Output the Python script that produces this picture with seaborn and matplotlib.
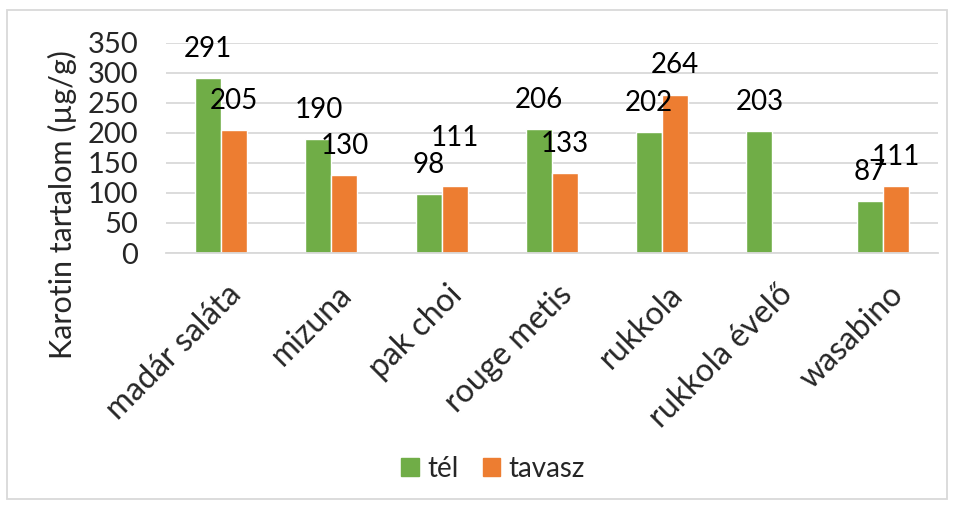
import matplotlib
matplotlib.use("Agg")
import matplotlib.pyplot as plt
import matplotlib.patches as mpatches
import matplotlib.transforms as mtransforms
import pandas as pd
import seaborn as sns

# chart data
categories = ["madár saláta", "mizuna", "pak choi", "rouge metis",
              "rukkola", "rukkola évelő", "wasabino"]
tel = [291, 190, 98, 206, 202, 203, 87]
tavasz = [205, 130, 111, 133, 264, None, 111]
series_names = ["tél", "tavasz"]
y_ticks = [0, 50, 100, 150, 200, 250, 300, 350]

colors = {"tél": "#70AD47", "tavasz": "#ED7D31"}
grid_color = "#D9D9D9"
# extra lift (points) for a label that was nudged up in the original
label_lift = {("tavasz", "pak choi"): 14}

sns.set_style("white")
plt.rcParams["font.family"] = ["Lato", "DejaVu Sans"]

# long format table, missing values dropped (dodge slot stays)
rows = []
for cat, a, b in zip(categories, tel, tavasz):
    if a is not None:
        rows.append({"kategoria": cat, "evszak": "tél", "ertek": a})
    if b is not None:
        rows.append({"kategoria": cat, "evszak": "tavasz", "ertek": b})
df = pd.DataFrame(rows)

fig = plt.figure(figsize=(9.54, 5.05), dpi=100)
ax = fig.add_axes([0.174, 0.499, 0.809, 0.416])

sns.barplot(data=df, x="kategoria", y="ertek", hue="evszak",
            order=categories, hue_order=series_names, palette=colors,
            width=0.47, saturation=1, errorbar=None, ax=ax, zorder=2)

# data labels, Excel puts them a bit above the bar top
for name, container in zip(series_names, ax.containers):
    sub = df[df["evszak"] == name]
    for bar, cat in zip(container, sub["kategoria"]):
        h = bar.get_height()
        lift = label_lift.get((name, cat), 0)
        ax.annotate(f"{h:.0f}", (bar.get_x() + bar.get_width() / 2, h),
                    xytext=(0, 21 + lift), textcoords="offset points",
                    ha="center", va="center", fontsize=20, color="black",
                    zorder=3)

ax.set_ylim(0, 350)
ax.set_xlim(-0.5, len(categories) - 0.5)
ax.set_yticks(y_ticks)
ax.yaxis.grid(True, color=grid_color, linewidth=1.3, zorder=0)
ax.set_axisbelow(True)
for side in ["top", "right", "left"]:
    ax.spines[side].set_visible(False)
ax.spines["bottom"].set_color(grid_color)
ax.spines["bottom"].set_linewidth(1.3)
ax.tick_params(axis="y", length=0, pad=20, labelsize=21)
ax.tick_params(axis="x", length=0, pad=19, labelsize=23)
# shift the slanted category labels slightly to the right
shift = mtransforms.ScaledTranslation(0.05, 0, fig.dpi_scale_trans)
for lbl in ax.get_xticklabels():
    lbl.set_rotation(45)
    lbl.set_ha("right")
    lbl.set_va("top")
    lbl.set_rotation_mode("anchor")
    lbl.set_transform(lbl.get_transform() + shift)
ax.set_xlabel("")
ax.set_ylabel("")
fig.text(0.065, 0.594, "Karotin tartalom (µg/g)", rotation=90,
         ha="center", va="center", fontsize=22)

ax.get_legend().remove()
handles = [mpatches.Patch(color=colors[s], label=s) for s in series_names]
fig.legend(handles=handles, loc="center", bbox_to_anchor=(0.517, 0.071),
           ncol=2, frameon=False, fontsize=20, handlelength=0.62,
           handleheight=0.62, handletextpad=0.32, columnspacing=0.86)

# thin frame round the chart area
fig.patches.append(mpatches.Rectangle((0.007, 0.012), 0.986, 0.968,
                                      transform=fig.transFigure, fill=False,
                                      edgecolor=grid_color, linewidth=1.3))

fig.savefig("out.png", dpi=100)
